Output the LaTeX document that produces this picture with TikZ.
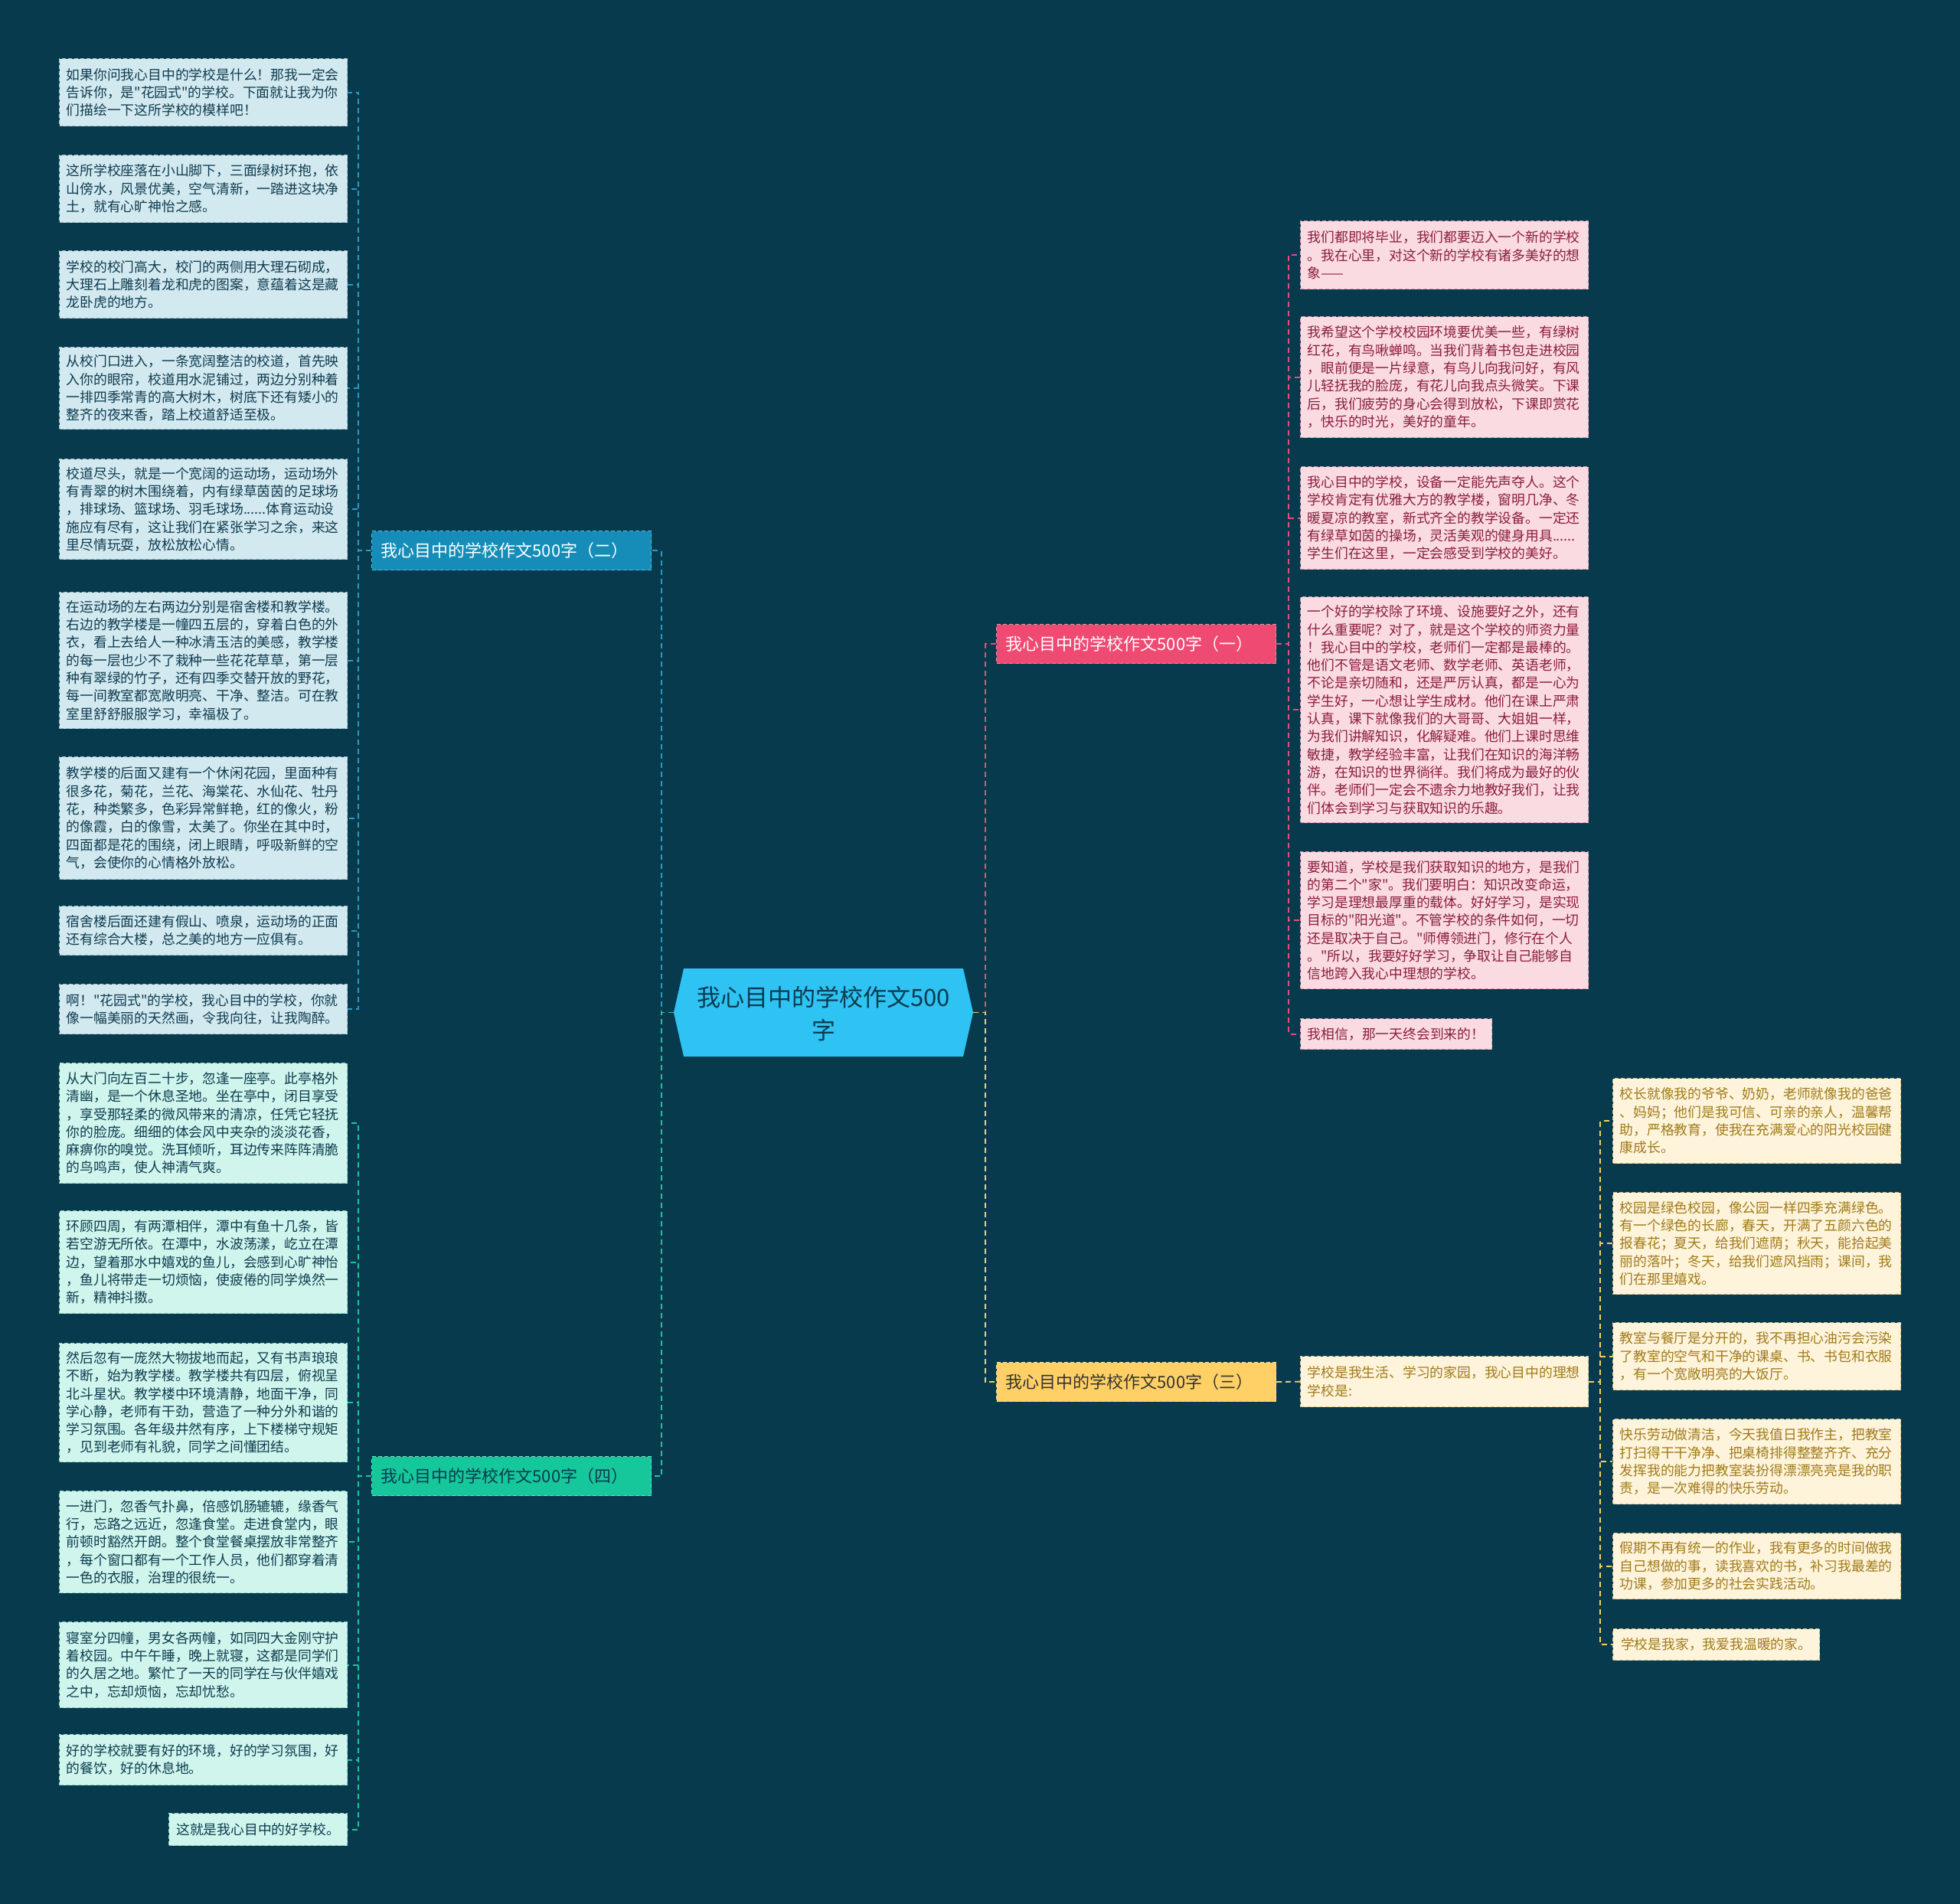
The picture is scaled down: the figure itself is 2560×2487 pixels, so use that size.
\documentclass[tikz,border=0pt]{standalone}
\usepackage{fontspec}
\setmainfont{Noto Sans CJK SC}[Ligatures=TeXOff]
\definecolor{bg}{HTML}{083A4E}
\definecolor{ctrfill}{HTML}{2EC3F3}
\definecolor{ctrtext}{HTML}{0B3A4E}
\definecolor{cblue}{HTML}{2E98C0}
\definecolor{cgreen}{HTML}{1DC49B}
\definecolor{cpink}{HTML}{E0507A}
\definecolor{cyel}{HTML}{F2CF62}
\definecolor{n2fill}{HTML}{168DB8}
\definecolor{n2draw}{HTML}{5BB4D6}
\definecolor{n4fill}{HTML}{16C79B}
\definecolor{n4draw}{HTML}{6FE0C2}
\definecolor{n1fill}{HTML}{EE4A72}
\definecolor{n1draw}{HTML}{F48AA6}
\definecolor{n3fill}{HTML}{FFD066}
\definecolor{n3draw}{HTML}{FFE39A}
\definecolor{bfill}{HTML}{D3E9F0}
\definecolor{bdraw}{HTML}{9EC3D1}
\definecolor{mfill}{HTML}{CFF5EC}
\definecolor{mdraw}{HTML}{8ED9C6}
\definecolor{pfill}{HTML}{FBDBE2}
\definecolor{pdraw}{HTML}{D79AAB}
\definecolor{yfill}{HTML}{FDF4DB}
\definecolor{ydraw}{HTML}{D9C48F}
\definecolor{darktext}{HTML}{0E3C50}
\definecolor{pinktext}{HTML}{8A1D3E}
\definecolor{goldtext}{HTML}{A27A1A}
\begin{document}
\begin{tikzpicture}[x=1pt,y=-1pt,
  cbox/.style={rectangle, anchor=north west, line width=1.2pt, dash pattern=on 5pt off 3pt,
    inner xsep=9pt, inner ysep=0pt, align=left,
    font=\fontsize{17.8pt}{23.3pt}\selectfont},
  wide/.style={text width=358pt, minimum width=376pt},
  bbox/.style={cbox, fill=bfill, draw=bdraw, text=darktext},
  mbox/.style={cbox, fill=mfill, draw=mdraw, text=darktext},
  pbox/.style={cbox, fill=pfill, draw=pdraw, text=pinktext},
  ybox/.style={cbox, fill=yfill, draw=ydraw, text=goldtext},
  branch/.style={rectangle, anchor=north west, line width=1.2pt, dash pattern=on 5pt off 3pt,
    inner xsep=12pt, inner ysep=0pt, text width=341pt, minimum height=51pt, align=left,
    font=\fontsize{22pt}{26pt}\selectfont},
  conn/.style={line width=1.8pt, dash pattern=on 7pt off 5pt}
]
\fill[bg] (0,0) rectangle (2560,2487);
\useasboundingbox (0,0) rectangle (2560,2487);

% centre
\fill[ctrfill] (893,1265) -- (1258,1265) -- (1271,1322.5) -- (1258,1380) -- (893,1380) -- (880,1322.5) -- cycle;
\node[align=center, text=ctrtext, font=\fontsize{31pt}{43pt}\selectfont] (ctr) at (1075.5,1324) {我心目中的学校作文500\\字};
\coordinate (ctrW) at (880,1322.5);
\coordinate (ctrE) at (1271,1322.5);

% branches
\node[branch, fill=n2fill, draw=n2draw, text=white] (n2) at (485,693) {我心目中的学校作文500字（二）};
\node[branch, fill=n4fill, draw=n4draw, text=ctrtext] (n4) at (485,1902) {我心目中的学校作文500字（四）};
\node[branch, fill=n1fill, draw=n1draw, text=white] (n1) at (1301,815) {我心目中的学校作文500字（一）};
\node[branch, fill=n3fill, draw=n3draw, text=black!80] (n3) at (1301,1779) {我心目中的学校作文500字（三）};

% (二) children
\node[bbox,wide,minimum height=88pt] (b1) at (77,76) {如果你问我心目中的学校是什么！那我一定会\\告诉你，是"花园式"的学校。下面就让我为你\\们描绘一下这所学校的模样吧！};
\node[bbox,wide,minimum height=88pt] (b2) at (77,202) {这所学校座落在小山脚下，三面绿树环抱，依\\山傍水，风景优美，空气清新，一踏进这块净\\土，就有心旷神怡之感。};
\node[bbox,wide,minimum height=88pt] (b3) at (77,327) {学校的校门高大，校门的两侧用大理石砌成，\\大理石上雕刻着龙和虎的图案，意蕴着这是藏\\龙卧虎的地方。};
\node[bbox,wide,minimum height=107pt] (b4) at (77,453) {从校门口进入，一条宽阔整洁的校道，首先映\\入你的眼帘，校道用水泥铺过，两边分别种着\\一排四季常青的高大树木，树底下还有矮小的\\整齐的夜来香，踏上校道舒适至极。};
\node[bbox,wide,minimum height=131pt] (b5) at (77,599) {校道尽头，就是一个宽阔的运动场，运动场外\\有青翠的树木围绕着，内有绿草茵茵的足球场\\，排球场、篮球场、羽毛球场......体育运动设\\施应有尽有，这让我们在紧张学习之余，来这\\里尽情玩耍，放松放松心情。};
\node[bbox,wide,minimum height=178pt] (b6) at (77,773) {在运动场的左右两边分别是宿舍楼和教学楼。\\右边的教学楼是一幢四五层的，穿着白色的外\\衣，看上去给人一种冰清玉洁的美感，教学楼\\的每一层也少不了栽种一些花花草草，第一层\\种有翠绿的竹子，还有四季交替开放的野花，\\每一间教室都宽敞明亮、干净、整洁。可在教\\室里舒舒服服学习，幸福极了。};
\node[bbox,wide,minimum height=160pt] (b7) at (77,988) {教学楼的后面又建有一个休闲花园，里面种有\\很多花，菊花，兰花、海棠花、水仙花、牡丹\\花，种类繁多，色彩异常鲜艳，红的像火，粉\\的像霞，白的像雪，太美了。你坐在其中时，\\四面都是花的围绕，闭上眼睛，呼吸新鲜的空\\气，会使你的心情格外放松。};
\node[bbox,wide,minimum height=64pt] (b8) at (77,1183) {宿舍楼后面还建有假山、喷泉，运动场的正面\\还有综合大楼，总之美的地方一应俱有。};
\node[bbox,wide,minimum height=65pt] (b9) at (77,1285) {啊！"花园式"的学校，我心目中的学校，你就\\像一幅美丽的天然画，令我向往，让我陶醉。};

% (四) children
\node[mbox,wide,minimum height=157pt] (b10) at (77,1388) {从大门向左百二十步，忽逢一座亭。此亭格外\\清幽，是一个休息圣地。坐在亭中，闭目享受\\，享受那轻柔的微风带来的清凉，任凭它轻抚\\你的脸庞。细细的体会风中夹杂的淡淡花香，\\麻痹你的嗅觉。洗耳倾听，耳边传来阵阵清脆\\的鸟鸣声，使人神清气爽。};
\node[mbox,wide,minimum height=134pt] (b11) at (77,1581) {环顾四周，有两潭相伴，潭中有鱼十几条，皆\\若空游无所依。在潭中，水波荡漾，屹立在潭\\边，望着那水中嬉戏的鱼儿，会感到心旷神怡\\，鱼儿将带走一切烦恼，使疲倦的同学焕然一\\新，精神抖擞。};
\node[mbox,wide,minimum height=155pt] (b12) at (77,1754) {然后忽有一庞然大物拔地而起，又有书声琅琅\\不断，始为教学楼。教学楼共有四层，俯视呈\\北斗星状。教学楼中环境清静，地面干净，同\\学心静，老师有干劲，营造了一种分外和谐的\\学习氛围。各年级井然有序，上下楼梯守规矩\\，见到老师有礼貌，同学之间懂团结。};
\node[mbox,wide,minimum height=133pt] (b13) at (77,1947) {一进门，忽香气扑鼻，倍感饥肠辘辘，缘香气\\行，忘路之远近，忽逢食堂。走进食堂内，眼\\前顿时豁然开朗。整个食堂餐桌摆放非常整齐\\，每个窗口都有一个工作人员，他们都穿着清\\一色的衣服，治理的很统一。};
\node[mbox,wide,minimum height=112pt] (b14) at (77,2118) {寝室分四幢，男女各两幢，如同四大金刚守护\\着校园。中午午睡，晚上就寝，这都是同学们\\的久居之地。繁忙了一天的同学在与伙伴嬉戏\\之中，忘却烦恼，忘却忧愁。};
\node[mbox,wide,minimum height=66pt] (b15) at (77,2265) {好的学校就要有好的环境，好的学习氛围，好\\的餐饮，好的休息地。};
\node[mbox,minimum height=42pt,minimum width=233pt] (b16) at (220,2368) {这就是我心目中的好学校。};

% (一) children
\node[pbox,wide,minimum height=89pt] (r1) at (1698,288) {我们都即将毕业，我们都要迈入一个新的学校\\。我在心里，对这个新的学校有诸多美好的想\\象——};
\node[pbox,wide,minimum height=158pt] (r2) at (1698,413) {我希望这个学校校园环境要优美一些，有绿树\\红花，有鸟啾蝉鸣。当我们背着书包走进校园\\，眼前便是一片绿意，有鸟儿向我问好，有风\\儿轻抚我的脸庞，有花儿向我点头微笑。下课\\后，我们疲劳的身心会得到放松，下课即赏花\\，快乐的时光，美好的童年。};
\node[pbox,wide,minimum height=134pt] (r3) at (1698,609) {我心目中的学校，设备一定能先声夺人。这个\\学校肯定有优雅大方的教学楼，窗明几净、冬\\暖夏凉的教室，新式齐全的教学设备。一定还\\有绿草如茵的操场，灵活美观的健身用具......\\学生们在这里，一定会感受到学校的美好。};
\node[pbox,wide,minimum height=295pt] (r4) at (1698,779) {一个好的学校除了环境、设施要好之外，还有\\什么重要呢？对了，就是这个学校的师资力量\\！我心目中的学校，老师们一定都是最棒的。\\他们不管是语文老师、数学老师、英语老师，\\不论是亲切随和，还是严厉认真，都是一心为\\学生好，一心想让学生成材。他们在课上严肃\\认真，课下就像我们的大哥哥、大姐姐一样，\\为我们讲解知识，化解疑难。他们上课时思维\\敏捷，教学经验丰富，让我们在知识的海洋畅\\游，在知识的世界徜徉。我们将成为最好的伙\\伴。老师们一定会不遗余力地教好我们，让我\\们体会到学习与获取知识的乐趣。};
\node[pbox,wide,minimum height=179pt] (r5) at (1698,1112) {要知道，学校是我们获取知识的地方，是我们\\的第二个"家"。我们要明白：知识改变命运，\\学习是理想最厚重的载体。好好学习，是实现\\目标的"阳光道"。不管学校的条件如何，一切\\还是取决于自己。"师傅领进门，修行在个人\\。"所以，我要好好学习，争取让自己能够自\\信地跨入我心中理想的学校。};
\node[pbox,minimum height=40pt,minimum width=250pt] (r6) at (1698,1330) {我相信，那一天终会到来的！};

% (三) children
\node[ybox,wide,minimum height=66pt] (y0) at (1698,1771) {学校是我生活、学习的家园，我心目中的理想\\学校是:};
\node[ybox,wide,minimum height=111pt] (y1) at (2106,1408) {校长就像我的爷爷、奶奶，老师就像我的爸爸\\、妈妈；他们是我可信、可亲的亲人，温馨帮\\助，严格教育，使我在充满爱心的阳光校园健\\康成长。};
\node[ybox,wide,minimum height=133pt] (y2) at (2106,1557) {校园是绿色校园，像公园一样四季充满绿色。\\有一个绿色的长廊，春天，开满了五颜六色的\\报春花；夏天，给我们遮荫；秋天，能拾起美\\丽的落叶；冬天，给我们遮风挡雨；课间，我\\们在那里嬉戏。};
\node[ybox,wide,minimum height=88pt] (y3) at (2106,1727) {教室与餐厅是分开的，我不再担心油污会污染\\了教室的空气和干净的课桌、书、书包和衣服\\，有一个宽敞明亮的大饭厅。};
\node[ybox,wide,minimum height=111pt] (y4) at (2106,1853) {快乐劳动做清洁，今天我值日我作主，把教室\\打扫得干干净净、把桌椅排得整整齐齐、充分\\发挥我的能力把教室装扮得漂漂亮亮是我的职\\责，是一次难得的快乐劳动。};
\node[ybox,wide,minimum height=86pt] (y5) at (2106,2002) {假期不再有统一的作业，我有更多的时间做我\\自己想做的事，读我喜欢的书，补习我最差的\\功课，参加更多的社会实践活动。};
\node[ybox,minimum height=41pt,minimum width=270pt] (y6) at (2106,2127) {学校是我家，我爱我温暖的家。};

% connectors
\draw[conn, cblue] (ctrW) -- ++(-16,0) |- (n2.east);
\draw[conn, cgreen] (ctrW) -- ++(-16,0) |- (n4.east);
\draw[conn, cpink] (ctrE) -- ++(16,0) |- (n1.west);
\draw[conn, cyel] (ctrE) -- ++(16,0) |- (n3.west);
\foreach \c in {b1,b2,b3,b4,b5,b6,b7,b8,b9}
  \draw[conn, cblue] (n2.west) -- ++(-17,0) |- (\c.east);
\foreach \c in {b10,b11,b12,b13,b14,b15,b16}
  \draw[conn, cgreen] (n4.west) -- ++(-17,0) |- (\c.east);
\foreach \c in {r1,r2,r3,r4,r5,r6}
  \draw[conn, cpink] (n1.east) -- ++(16,0) |- (\c.west);
\draw[conn, cyel] (n3.east) -- (y0.west);
\foreach \c in {y1,y2,y3,y4,y5,y6}
  \draw[conn, cyel] (y0.east) -- ++(15,0) |- (\c.west);
\end{tikzpicture}
\end{document}
